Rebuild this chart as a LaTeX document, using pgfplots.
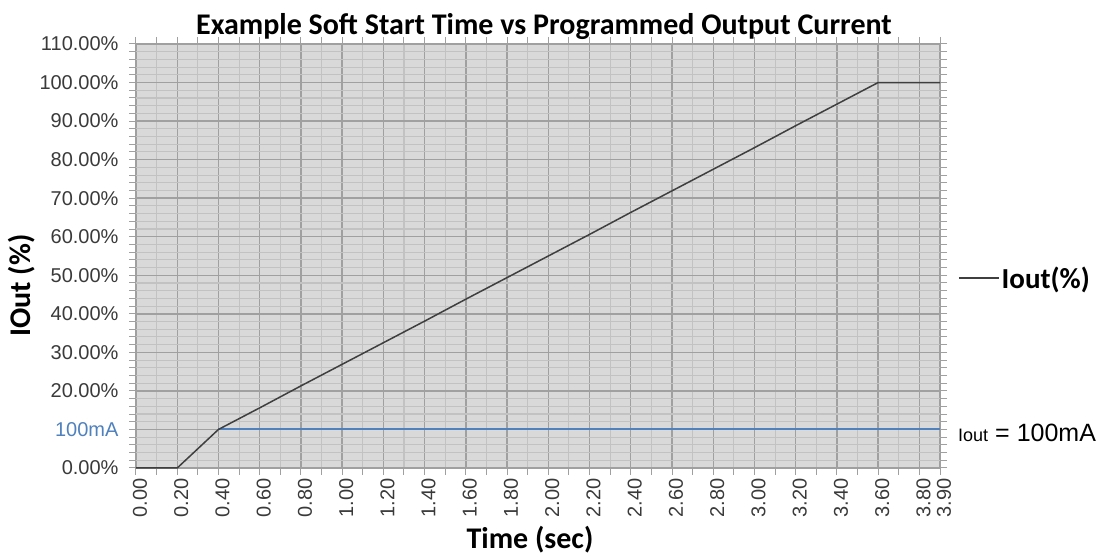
\documentclass[border=0pt]{standalone}
\usepackage{pgfplots}
\pgfplotsset{compat=1.18}
\usepackage{fontspec}
\setmainfont{Liberation Sans}
\newfontfamily\carlito{Carlito}
\definecolor{plotbg}{HTML}{D9D9D9}
\definecolor{majgrid}{HTML}{A0A0A0}
\definecolor{mingrid}{HTML}{C2C2C2}
\definecolor{lineblue}{HTML}{4F81BD}
\definecolor{linegray}{HTML}{3F3F3F}
\definecolor{ticktext}{HTML}{3A3A3A}
\begin{document}
\begin{tikzpicture}
\begin{axis}[
  scale only axis, width=804pt, height=424pt,
  xmin=0, xmax=3.9, ymin=0, ymax=110,
  clip=false,
  axis background/.style={fill=plotbg},
  xtick={0,0.2,0.4,0.6,0.8,1.0,1.2,1.4,1.6,1.8,2.0,2.2,2.4,2.6,2.8,3.0,3.2,3.4,3.6,3.8,3.9},
  xticklabels={0.00,0.20,0.40,0.60,0.80,1.00,1.20,1.40,1.60,1.80,2.00,2.20,2.40,2.60,2.80,3.00,3.20,3.40,3.60,3.80,3.90},
  minor xtick={0.1,0.3,0.5,0.7,0.9,1.1,1.3,1.5,1.7,1.9,2.1,2.3,2.5,2.7,2.9,3.1,3.3,3.5,3.7},
  ytick={0,10,20,30,40,50,60,70,80,90,100,110},
  yticklabels={0.00\%,{\color{lineblue}100mA},20.00\%,30.00\%,40.00\%,50.00\%,60.00\%,70.00\%,80.00\%,90.00\%,100.00\%,110.00\%},
  minor y tick num=4,
  grid=both,
  major grid style={majgrid, line width=1.4pt},
  minor grid style={mingrid, line width=1.1pt},
  tick align=outside,
  major tick length=7pt, minor tick length=7pt,
  every tick/.style={majgrid, line width=1pt},
  axis line style={majgrid, line width=1pt},
  tick label style={font=\fontsize{20}{22}\selectfont, text=ticktext},
  yticklabel style={xshift=-7pt},
  xticklabel style={rotate=90, anchor=east, yshift=-4pt},
  title={Example Soft Start Time vs Programmed Output Current},
  title style={font=\carlito\bfseries\fontsize{30}{32}\selectfont, xshift=6pt, yshift=-5pt},
  xlabel={Time (sec)},
  xlabel style={font=\carlito\bfseries\fontsize{30}{32}\selectfont, at={(rel axis cs:0.49,0)}, anchor=center, yshift=-72pt},
  ylabel={IOut (\%)},
  ylabel style={font=\carlito\bfseries\fontsize{30}{32}\selectfont, at={(rel axis cs:0,0.43)}, anchor=center, yshift=114pt},
  legend style={at={(rel axis cs:1,0.448)}, anchor=west, xshift=18pt, draw=none, fill=none,
    font=\carlito\bfseries\fontsize{29}{31}\selectfont, inner sep=0pt},
  legend image code/.code={\draw[#1] (0pt,0pt) -- (40pt,0pt);},
]
\coordinate (O) at (rel axis cs:0,0);
\addplot[lineblue, line width=2pt, forget plot] coordinates {(0.4,10) (3.9,10)};
\addplot[linegray, line width=1.5pt] coordinates {
(0,0) (0.2,0) (0.4,10) (0.6,15.6) (0.8,21.3) (1.0,26.9) (1.2,32.5) (1.4,38.1)
(1.6,43.8) (1.8,49.4) (2.0,55.0) (2.2,60.6) (2.4,66.3) (2.6,71.9) (2.8,77.5)
(3.0,83.1) (3.2,88.8) (3.4,94.4) (3.6,100) (3.9,100)};
\addlegendentry{Iout(\%)}
\node[anchor=base west, xshift=18pt, yshift=-12pt, inner sep=0pt] at (rel axis cs:1,0.0909)
  {{\fontsize{18}{20}\selectfont Iout}\hspace{7pt}{\fontsize{25}{27}\selectfont = 100mA}};
\end{axis}
\pgfresetboundingbox
\path (O) ++(-136pt,-91pt) rectangle ++(1103pt,559pt);
\end{tikzpicture}
\end{document}
